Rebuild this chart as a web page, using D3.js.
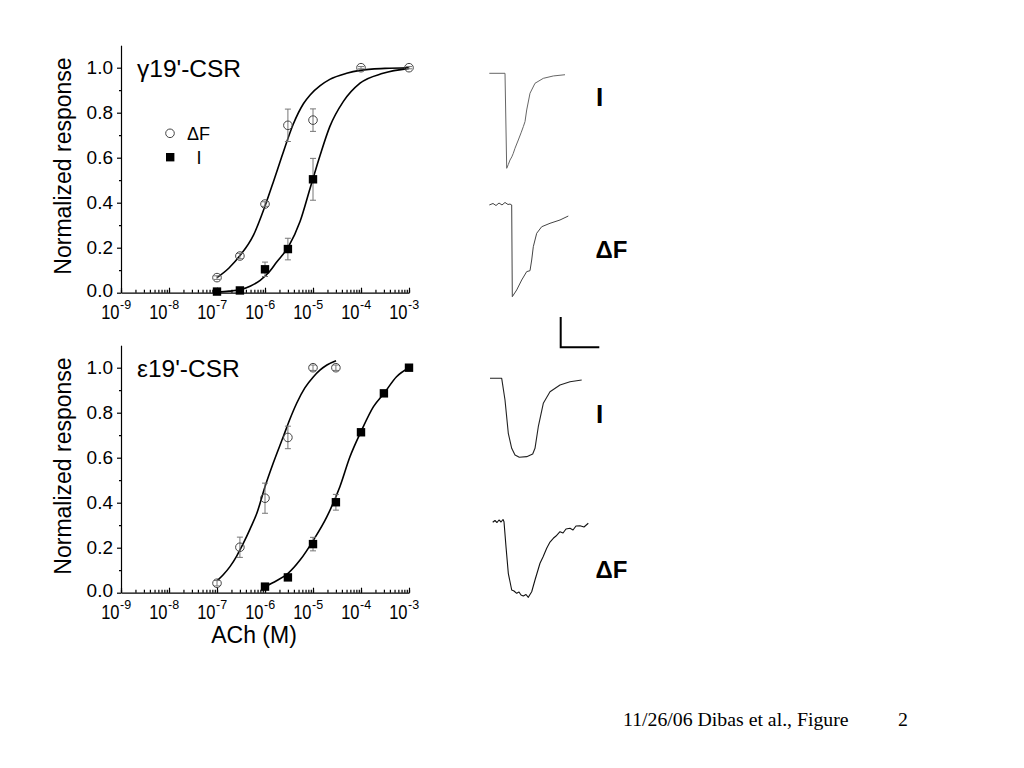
<!DOCTYPE html>
<html><head><meta charset="utf-8">
<script src="https://cdn.jsdelivr.net/npm/d3@7"></script>
<style>body{margin:0;background:#fff}svg{display:block}</style>
</head><body>
<svg id="c" width="1024" height="768"></svg>
<script>
// ---------- data ----------
const decadeTicks = [1e-9, 1e-8, 1e-7, 1e-6, 1e-5, 1e-4, 1e-3];
const yTicks = [0, 0.2, 0.4, 0.6, 0.8, 1.0];
const yMinorTicks = [0.1, 0.3, 0.5, 0.7, 0.9];
const panelTitles = ["γ19'-CSR", "ε19'-CSR"];
const legendLabels = ["ΔF", "I"];
const xAxisTitle = "ACh (M)";
const yAxisTitle = "Normalized response";
const traceLabels = ["I", "ΔF", "I", "ΔF"];
const footerText = "11/26/06 Dibas et al., Figure";
const footerNumber = "2";

// gamma19'-CSR
const gDF_conc = [1e-7, 3e-7, 1e-6, 3e-6, 1e-5, 1e-4, 1e-3];
const gDF_resp = [0.067, 0.163, 0.394, 0.744, 0.767, 1.0, 1.0];
const gDF_err  = [0.008, 0.012, 0.01, 0.072, 0.05, 0.005, 0.005];
const gI_conc  = [1e-7, 3e-7, 1e-6, 3e-6, 1e-5];
const gI_resp  = [0.005, 0.01, 0.104, 0.194, 0.504];
const gI_err   = [0.004, 0.006, 0.032, 0.048, 0.093];
// fitted curves (log10 concentration, response)
const gDFfit_logx = [-7.0, -6.75, -6.52, -6.24, -6.0, -5.83, -5.65, -5.41, -5.2, -5.06, -4.85, -4.65, -4.3, -4.02, -3.5, -3.0];
const gDFfit_y    = [0.067, 0.11, 0.165, 0.256, 0.385, 0.49, 0.605, 0.75, 0.84, 0.879, 0.92, 0.948, 0.975, 0.988, 0.997, 1.0];
const gIfit_logx  = [-7.0, -6.75, -6.52, -6.3, -6.1, -5.9, -5.76, -5.51, -5.27, -5.06, -4.85, -4.65, -4.37, -4.02, -3.54, -3.0];
const gIfit_y     = [0.003, 0.007, 0.013, 0.03, 0.055, 0.095, 0.135, 0.205, 0.316, 0.464, 0.612, 0.738, 0.849, 0.931, 0.975, 0.997];

// epsilon19'-CSR
const eDF_conc = [1e-7, 3e-7, 1e-6, 3e-6, 1e-5, 3e-5];
const eDF_resp = [0.042, 0.202, 0.42, 0.69, 1.0, 1.0];
const eDF_err  = [0.012, 0.045, 0.067, 0.05, 0.012, 0.012];
const eI_conc  = [1e-6, 3e-6, 1e-5, 3e-5, 1e-4, 3e-4, 1e-3];
const eI_resp  = [0.027, 0.068, 0.216, 0.402, 0.713, 0.886, 1.0];
const eI_err   = [0.005, 0.008, 0.03, 0.035, 0.012, 0.01, 0.005];
const eDFfit_logx = [-7.0, -6.87, -6.73, -6.59, -6.45, -6.31, -6.17, -6.0, -5.83, -5.62, -5.48, -5.34, -5.17, -4.99, -4.85, -4.71, -4.52];
const eDFfit_y    = [0.053, 0.08, 0.116, 0.163, 0.22, 0.284, 0.353, 0.471, 0.575, 0.693, 0.772, 0.842, 0.91, 0.96, 0.99, 1.012, 1.031];
const eIfit_logx  = [-6.0, -5.76, -5.52, -5.27, -4.99, -4.71, -4.44, -4.23, -4.0, -3.74, -3.52, -3.26, -3.0];
const eIfit_y     = [0.027, 0.053, 0.086, 0.145, 0.234, 0.338, 0.471, 0.604, 0.716, 0.827, 0.886, 0.96, 1.0];

// example traces: time (arbitrary units) and normalized amplitude (0 = baseline, -1 = peak)
const tr1_t = [0, 15.7, 17.4, 19, 20.7, 22.5, 24, 25.7, 29, 32, 34, 35.7, 37.4, 40.7, 45.7, 54, 64, 75.7];
const tr1_v = [0, 0, -1, -0.96, -0.913, -0.88, -0.842, -0.789, -0.702, -0.62, -0.562, -0.509, -0.386, -0.21, -0.105, -0.053, -0.028, -0.015];
const tr2_t = [0, 3.7, 6.7, 9.7, 12.7, 15.7, 18.7, 20.7, 22.4, 23, 27.4, 32.4, 37.4, 40.7, 42.4, 44, 47.4, 52.4, 60.7, 70.7, 79];
const tr2_v = [-0.005, 0.011, -0.011, 0.016, -0.005, 0.022, 0, 0.005, -0.005, -1, -0.927, -0.819, -0.728, -0.718, -0.602, -0.458, -0.312, -0.241, -0.204, -0.168, -0.125];
const tr3_t = [0, 11.7, 15, 18.3, 21.7, 25, 29.3, 36.7, 42.7, 45, 48.3, 53.3, 60, 70, 80, 91.7];
const tr3_v = [0, 0, -0.275, -0.696, -0.886, -0.97, -1, -0.992, -0.958, -0.886, -0.613, -0.316, -0.17, -0.085, -0.043, -0.022];
const tr4_t = [0, 2.3, 4.3, 6.3, 8.3, 10.3, 11.3, 13.3, 15.6, 19, 21.3, 24, 26.3, 28.3, 30.6, 33.3, 35.6, 39, 42.3, 47.3, 50.3, 54, 57.3, 60.6, 63.3, 67.3, 70.3, 73.3, 77.3, 80.3, 83.3, 87.3, 91.3, 95.6];
const tr4_v = [-0.004, 0.02, -0.007, 0.027, 0, 0.033, 0.004, -0.328, -0.681, -0.903, -0.916, -0.947, -0.93, -0.969, -0.983, -0.963, -1, -0.926, -0.77, -0.548, -0.465, -0.349, -0.266, -0.216, -0.186, -0.129, -0.146, -0.093, -0.084, -0.106, -0.053, -0.049, -0.066, -0.017];
const scaleBarTime = 38.6;   // time units
const scaleBarAmp = 0.32;    // normalized amplitude units

// ---------- drawing ----------
const svg = d3.select("#c");
const SANS = "'Liberation Sans', Arial, Helvetica, sans-serif";
const SERIF = "'Liberation Serif', 'Times New Roman', serif";
const zip = (a, b, c) => a.map((v, i) => ({x: v, y: b[i], e: c ? c[i] : 0}));

const panels = [
  {off: 0, title: panelTitles[0], df: zip(gDF_conc, gDF_resp, gDF_err), i: zip(gI_conc, gI_resp, gI_err),
   dfFit: zip(gDFfit_logx, gDFfit_y), iFit: zip(gIfit_logx, gIfit_y), legend: true, xTitle: false},
  {off: 300, title: panelTitles[1], df: zip(eDF_conc, eDF_resp, eDF_err), i: zip(eI_conc, eI_resp, eI_err),
   dfFit: zip(eDFfit_logx, eDFfit_y), iFit: zip(eIfit_logx, eIfit_y), legend: false, xTitle: true}
];

panels.forEach(p => {
  const x = d3.scaleLog().domain([1e-9, 1e-3]).range([121, 409]);
  const y = d3.scaleLinear().domain([0, 1.1]).range([292.7 + p.off, 45.2 + p.off]);
  const g = svg.append("g");

  // y axis
  const yAx = g.append("g").attr("transform", "translate(121,0)")
    .call(d3.axisLeft(y).tickValues(yTicks).tickSize(4).tickSizeOuter(0).tickPadding(4).tickFormat(d3.format(".1f")));
  g.append("g").attr("transform", "translate(121,0)")
    .call(d3.axisLeft(y).tickValues(yMinorTicks).tickSize(2).tickSizeOuter(0).tickFormat(""))
    .select(".domain").remove();
  yAx.selectAll("text").attr("font-family", SANS).attr("font-size", 19).attr("fill", "#000")
    .attr("dy", d => d === 0 ? "0.2em" : "0.3em");

  // x axis
  g.append("g").attr("transform", `translate(0,${y(0)})`)
    .call(d3.axisBottom(x).tickValues(x.ticks()).tickSize(-3).tickSizeOuter(0).tickFormat(""));
  g.append("g").attr("transform", `translate(0,${y(0)})`)
    .call(d3.axisBottom(x).tickValues(decadeTicks).tickSize(-5).tickSizeOuter(0).tickFormat(""))
    .select(".domain").remove();
  g.selectAll(".domain, .tick line").attr("stroke", "#000").attr("stroke-width", 1.2);

  const base = y(0) + 26.5;
  const lab = g.append("g").selectAll("g").data(decadeTicks).join("g");
  lab.append("text")
    .attr("transform", d => `translate(${x(d) - 1.5},${base}) scale(1,1.25)`)
    .attr("text-anchor", "end").attr("font-family", SANS).attr("font-size", 16.5).text("10");
  lab.append("text")
    .attr("x", d => x(d) - 1).attr("y", base - 10.5)
    .attr("font-family", SANS).attr("font-size", 12.5).text(d => String(Math.round(Math.log10(d))));

  // y title
  g.append("text").attr("transform", `translate(71,${p.off + 166}) rotate(-90)`)
    .attr("text-anchor", "middle").attr("font-family", SANS).attr("font-size", 23).text(yAxisTitle);
  // panel title
  g.append("text").attr("x", 137).attr("y", p.off + 77)
    .attr("font-family", SANS).attr("font-size", 24.5).text(p.title);
  if (p.xTitle) {
    g.append("text").attr("x", 254).attr("y", y(0) + 50).attr("text-anchor", "middle")
      .attr("font-family", SANS).attr("font-size", 23).text(xAxisTitle);
  }

  // fit curves
  const line = d3.line().x(d => x(Math.pow(10, d.x))).y(d => y(d.y)).curve(d3.curveMonotoneX);
  [p.dfFit, p.iFit].forEach(f => g.append("path").attr("d", line(f))
    .attr("fill", "none").attr("stroke", "#000").attr("stroke-width", 1.6));

  // error bars
  [p.df, p.i].forEach(ser => {
    const eb = g.append("g").attr("stroke", "#777").attr("stroke-width", 1);
    ser.forEach(d => {
      const cx = x(d.x);
      eb.append("line").attr("x1", cx).attr("x2", cx).attr("y1", y(d.y + d.e)).attr("y2", y(d.y - d.e));
      eb.append("line").attr("x1", cx - 3).attr("x2", cx + 3).attr("y1", y(d.y + d.e)).attr("y2", y(d.y + d.e));
      eb.append("line").attr("x1", cx - 3).attr("x2", cx + 3).attr("y1", y(d.y - d.e)).attr("y2", y(d.y - d.e));
    });
  });

  // markers
  g.append("g").selectAll("circle").data(p.df).join("circle")
    .attr("cx", d => x(d.x)).attr("cy", d => y(d.y)).attr("r", 4.3)
    .attr("fill", "none").attr("stroke", "#444").attr("stroke-width", 1);
  g.append("g").selectAll("rect").data(p.i).join("rect")
    .attr("x", d => x(d.x) - 4.2).attr("y", d => y(d.y) - 4.2).attr("width", 8.4).attr("height", 8.4)
    .attr("fill", "#000");

  if (p.legend) {
    g.append("circle").attr("cx", 170).attr("cy", 133.3).attr("r", 4.3)
      .attr("fill", "none").attr("stroke", "#444").attr("stroke-width", 1);
    g.append("text").attr("x", 187).attr("y", 140).attr("font-family", SANS).attr("font-size", 18).text(legendLabels[0]);
    g.append("rect").attr("x", 166).attr("y", 153).attr("width", 8.4).attr("height", 8.4).attr("fill", "#000");
    g.append("text").attr("x", 196.5).attr("y", 163.5).attr("font-family", SANS).attr("font-size", 18).text(legendLabels[1]);
  }
});

// ---------- traces ----------
const traceBoxes = [
  {t: tr1_t, v: tr1_v, x0: 489.3, yBase: 73.3, yPeak: 168.3, color: "#666", w: 1},
  {t: tr2_t, v: tr2_v, x0: 489.3, yBase: 204.5, yPeak: 296.7, color: "#444", w: 1},
  {t: tr3_t, v: tr3_v, x0: 490, yBase: 378.3, yPeak: 457.3, color: "#222", w: 1.1},
  {t: tr4_t, v: tr4_v, x0: 492.7, yBase: 522, yPeak: 597.3, color: "#111", w: 1.1}
];
traceBoxes.forEach(b => {
  const tx = d3.scaleLinear().domain([0, 100]).range([b.x0, b.x0 + 100]);
  const ty = d3.scaleLinear().domain([-1, 0]).range([b.yPeak, b.yBase]);
  const data = b.t.map((t, i) => [t, b.v[i]]);
  svg.append("path").attr("d", d3.line().x(d => tx(d[0])).y(d => ty(d[1]))(data))
    .attr("fill", "none").attr("stroke", b.color).attr("stroke-width", b.w).attr("stroke-linejoin", "round");
});
// scale bar (uses first trace's scales)
{
  const tx = d3.scaleLinear().domain([0, 100]).range([0, 100]);
  const ty = d3.scaleLinear().domain([0, 1]).range([0, 95]);
  const ox = 560.7, oy = 347.3;
  svg.append("path")
    .attr("d", `M${ox},${oy - ty(scaleBarAmp)}V${oy}H${ox + tx(scaleBarTime)}`)
    .attr("fill", "none").attr("stroke", "#000").attr("stroke-width", 2);
}
// trace labels
const labelPos = [[596, 106], [595.5, 258.3], [596, 423], [595.5, 578]];
traceLabels.forEach((t, i) => {
  svg.append("text").attr("x", labelPos[i][0]).attr("y", labelPos[i][1])
    .attr("font-family", SANS).attr("font-weight", "bold").attr("font-size", t === "I" ? 26 : 24).text(t);
});

// footer
svg.append("text").attr("x", 623).attr("y", 726).attr("font-family", SERIF)
  .attr("font-size", 19.8).text(footerText);
svg.append("text").attr("x", 898).attr("y", 726).attr("font-family", SERIF)
  .attr("font-size", 19.8).text(footerNumber);
</script>
</body></html>
